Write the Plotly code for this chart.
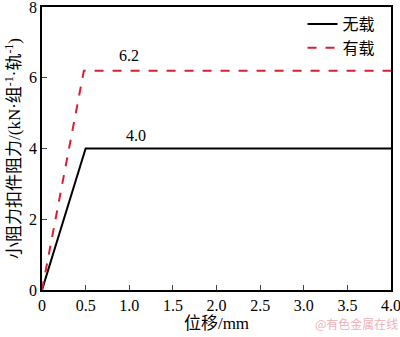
import plotly.graph_objects as go

x_unloaded = [0, 0.5, 4.0]
y_unloaded = [0, 4.0, 4.0]
x_loaded = [0, 0.48, 4.0]
y_loaded = [0, 6.2, 6.2]
x_ticks = [0, 0.5, 1.0, 1.5, 2.0, 2.5, 3.0, 3.5, 4.0]
x_ticklabels = ["0", "0.5", "1.0", "1.5", "2.0", "2.5", "3.0", "3.5", "4.0"]
y_ticks = [0, 2, 4, 6, 8]

font_family = "'Liberation Serif', 'Times New Roman', 'Noto Sans CJK SC', serif"

fig = go.Figure()
fig.add_trace(go.Scatter(x=x_unloaded, y=y_unloaded, mode="lines", name="无载",
                         line=dict(color="black", width=2)))
fig.add_trace(go.Scatter(x=x_loaded, y=y_loaded, mode="lines", name="有载",
                         line=dict(color="#d62030", width=2, dash="dash")))

fig.add_annotation(x=1.0, y=6.2, yshift=15, text="6.2", showarrow=False,
                   font=dict(size=16, color="black", family=font_family))
fig.add_annotation(x=1.08, y=4.0, yshift=13, text="4.0", showarrow=False,
                   font=dict(size=16, color="black", family=font_family))
fig.add_annotation(xref="paper", yref="paper", x=1.025, y=-0.155, xanchor="right",
                   text="@有色金属在线", showarrow=False,
                   font=dict(size=12, color="#f0b0b8", family="Noto Sans CJK SC"))

fig.update_layout(
    width=400, height=337,
    margin=dict(l=42, r=9, t=7, b=47),
    plot_bgcolor="white", paper_bgcolor="white",
    font=dict(family=font_family, size=16, color="black"),
    showlegend=True,
    legend=dict(x=0.97, y=1.0, xanchor="right", yanchor="top",
                bgcolor="rgba(0,0,0,0)", font=dict(size=16),
                tracegroupgap=0, itemwidth=30),
    xaxis=dict(range=[0, 4.0], tickvals=x_ticks, ticktext=x_ticklabels,
               ticks="inside", ticklen=5, showline=True, linecolor="black",
               linewidth=1.5, mirror=True, showgrid=False, zeroline=False,
               automargin=False, ticklabeloverflow="allow",
               title=dict(text="位移/mm", font=dict(size=17), standoff=2)),
    yaxis=dict(range=[0, 8], tickvals=y_ticks,
               ticks="inside", ticklen=5, showline=True, linecolor="black",
               linewidth=1.5, mirror=True, showgrid=False, zeroline=False,
               automargin=False, ticklabeloverflow="allow",
               title=dict(text="小阻力扣件阻力/(kN·组<sup>-1</sup>·轨<sup>-1</sup>)",
                          font=dict(size=17), standoff=4)),
)

fig.write_html("out.html")
